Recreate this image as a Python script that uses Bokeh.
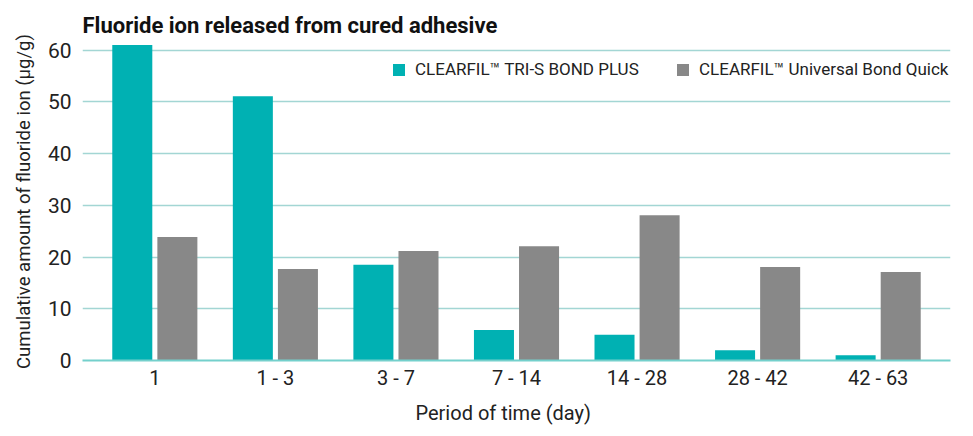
from bokeh.plotting import figure
from bokeh.models import FactorRange, Range1d, Legend, LegendItem, ColumnDataSource, FixedTicker, Title
from bokeh.transform import dodge
from bokeh.embed import file_html
from bokeh.resources import INLINE

periods = ["1", "1 - 3", "3 - 7", "7 - 14", "14 - 28", "28 - 42", "42 - 63"]
tri_s_bond_plus = [61.0, 51.1, 18.5, 5.9, 5.0, 2.0, 1.0]
universal_bond_quick = [23.9, 17.7, 21.2, 22.1, 28.1, 18.1, 17.1]
series_names = ["CLEARFIL\u2122 TRI-S BOND PLUS", "CLEARFIL\u2122 Universal Bond Quick"]
y_ticks = [0, 10, 20, 30, 40, 50, 60]

TEAL = "#00b1b3"
GREY = "#888888"
FONT = "Roboto"
TXT = "#222222"

src = ColumnDataSource(dict(period=periods, a=tri_s_bond_plus, b=universal_bond_quick))

p = figure(width=965, height=434, output_backend="svg", toolbar_location=None,
           x_range=FactorRange(factors=periods, range_padding=0.1, range_padding_units="absolute"),
           y_range=Range1d(0, 61.5),
           title="Fluoride ion released from cured adhesive")
p.min_border_left = 82
p.min_border_right = 15
p.min_border_bottom = 74
p.min_border_top = 42
p.outline_line_color = None

p.title.text_font = FONT
p.title.text_font_size = "22px"
p.title.text_font_style = "bold"
p.title.text_color = "#111111"
p.title.align = "left"
p.title.standoff = 10
p.title.offset = 0

r1 = p.vbar(x=dodge("period", -0.187, range=p.x_range), top="a", width=0.332, source=src,
            fill_color=TEAL, line_color=None)
r2 = p.vbar(x=dodge("period", 0.187, range=p.x_range), top="b", width=0.332, source=src,
            fill_color=GREY, line_color=None)

p.xgrid.grid_line_color = None
p.ygrid.ticker = FixedTicker(ticks=y_ticks)
p.ygrid.grid_line_color = "#a3d6d4"
p.ygrid.grid_line_width = 1.5

p.yaxis.ticker = FixedTicker(ticks=y_ticks)
p.yaxis.axis_line_color = None
p.yaxis.major_tick_line_color = None
p.yaxis.minor_tick_line_color = None
p.yaxis.major_tick_out = 0
p.yaxis.major_tick_in = 0
p.yaxis.major_label_text_font = FONT
p.yaxis.major_label_text_font_size = "21px"
p.yaxis.major_label_text_color = TXT
p.yaxis.major_label_standoff = 11
p.yaxis.axis_label = "Cumulative amount of fluoride ion (\u00b5g/g)"
p.yaxis.axis_label_text_font = FONT
p.yaxis.axis_label_text_font_size = "18.5px"
p.yaxis.axis_label_text_font_style = "normal"
p.yaxis.axis_label_text_color = TXT
p.yaxis.axis_label_standoff = 10

p.xaxis.axis_line_color = "#74d0cc"
p.xaxis.axis_line_width = 2
p.xaxis.major_tick_line_color = None
p.xaxis.minor_tick_line_color = None
p.xaxis.major_tick_out = 0
p.xaxis.major_tick_in = 0
p.xaxis.major_label_text_font = FONT
p.xaxis.major_label_text_font_size = "20px"
p.xaxis.major_label_text_color = TXT
p.xaxis.major_label_standoff = 5

xlabel = Title(text="Period of time (day)", align="left", offset=333, standoff=16,
               vertical_align="top",
               text_font=FONT, text_font_size="20px", text_font_style="normal", text_color=TXT)
p.add_layout(xlabel, "below")

leg1 = Legend(items=[LegendItem(label=series_names[0], renderers=[r1])],
              orientation="horizontal", location=(309, 281),
              padding=0, margin=0, label_standoff=9,
              glyph_width=15, glyph_height=15, label_height=15,
              border_line_color=None, background_fill_alpha=0,
              label_text_font=FONT, label_text_font_size="17px", label_text_color=TXT)
leg2 = Legend(items=[LegendItem(label=series_names[1], renderers=[r2])],
              orientation="horizontal", location=(593, 281),
              padding=0, margin=0, label_standoff=9,
              glyph_width=15, glyph_height=15, label_height=15,
              border_line_color=None, background_fill_alpha=0,
              label_text_font=FONT, label_text_font_size="17px", label_text_color=TXT)
p.add_layout(leg1)
p.add_layout(leg2)

open("out.html", "w").write(file_html(p, INLINE))
